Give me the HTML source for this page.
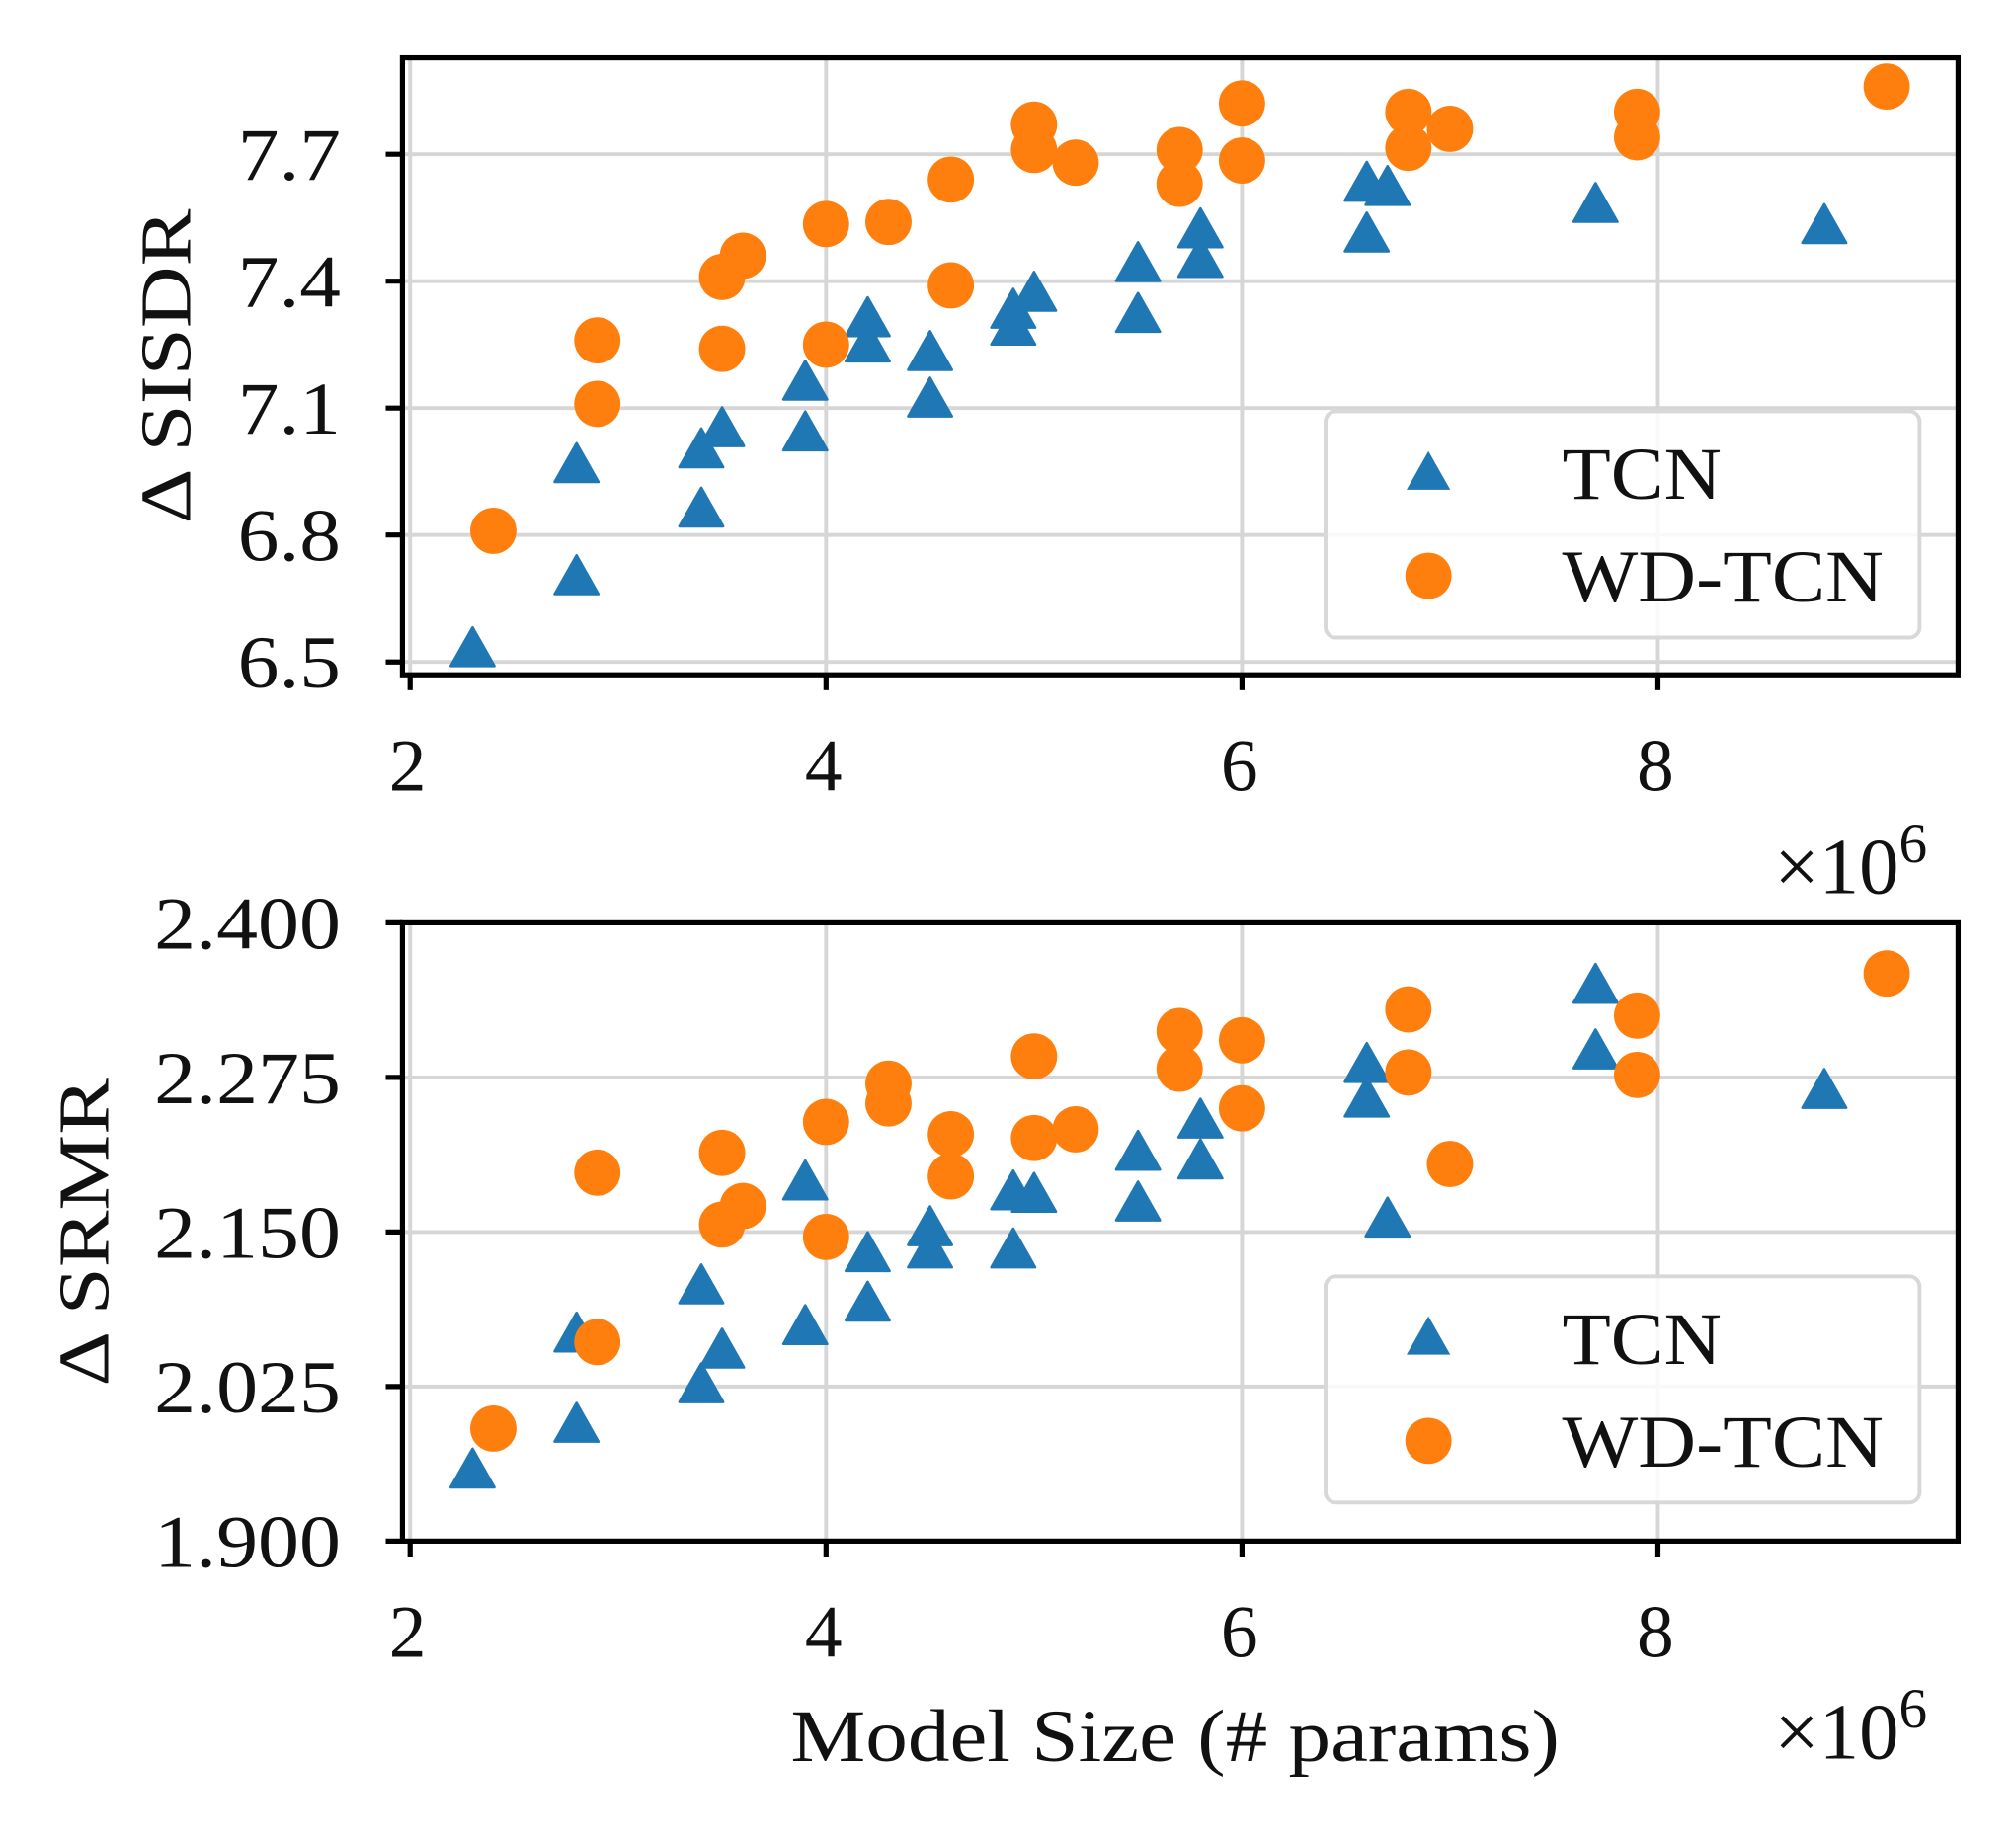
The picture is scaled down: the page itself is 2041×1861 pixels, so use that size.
<!DOCTYPE html>
<html><head><meta charset="utf-8"><style>html,body{margin:0;padding:0;background:#fff}svg{display:block}text{font-family:"Liberation Serif","DejaVu Serif",serif;fill:#111}</style></head>
<body>
<svg id="chart" width="2041" height="1861" viewBox="0 0 1568 1430" preserveAspectRatio="none" xmlns="http://www.w3.org/2000/svg"></svg>
<script>
const xTicks=[2,4,6,8];
const topYTicks=[6.5,6.8,7.1,7.4,7.7];
const topYLabels=["6.5","6.8","7.1","7.4","7.7"];
const botYTicks=[1.9,2.025,2.15,2.275,2.4];
const botYLabels=["1.900","2.025","2.150","2.275","2.400"];
const tcnSizes=[2.3,2.8,2.8,3.4,3.4,3.5,3.9,3.9,4.2,4.2,4.5,4.5,4.9,4.9,5.0,5.5,5.5,5.8,5.8,6.6,6.6,6.7,7.7,8.8];
const tcnSisdr=[6.53,6.70,6.965,6.86,7.0,7.05,7.04,7.16,7.25,7.31,7.12,7.23,7.29,7.33,7.37,7.32,7.44,7.45,7.52,7.51,7.63,7.62,7.58,7.53];
const wdSizes=[2.4,2.9,2.9,3.5,3.5,3.6,4.0,4.0,4.3,4.6,4.6,5.0,5.0,5.2,5.7,5.7,6.0,6.0,6.8,6.8,7.0,7.9,7.9,9.1];
const wdSisdr=[6.81,7.11,7.26,7.24,7.41,7.46,7.25,7.535,7.54,7.39,7.64,7.71,7.77,7.68,7.63,7.71,7.685,7.82,7.715,7.80,7.76,7.74,7.80,7.86];
const tcnSizes2=[2.3,2.8,2.8,3.4,3.4,3.5,3.9,3.9,4.2,4.2,4.5,4.5,4.9,4.9,5.0,5.5,5.5,5.8,5.8,6.6,6.6,6.7,7.7,7.7,8.8];
const tcnSrmr=[1.957,1.994,2.067,2.026,2.106,2.054,2.073,2.190,2.092,2.132,2.135,2.153,2.135,2.182,2.180,2.173,2.214,2.207,2.240,2.257,2.285,2.160,2.296,2.349,2.264];
const wdSizes2=[2.4,2.9,2.9,3.5,3.5,3.6,4.0,4.0,4.3,4.3,4.6,4.6,5.0,5.0,5.2,5.7,5.7,6.0,6.0,6.8,6.8,7.0,7.9,7.9,9.1];
const wdSrmr=[1.991,2.061,2.198,2.156,2.214,2.171,2.146,2.239,2.254,2.270,2.195,2.229,2.226,2.292,2.233,2.282,2.3125,2.25,2.305,2.279,2.330,2.205,2.277,2.325,2.359];

const svg=document.getElementById('chart');
const NS='http://www.w3.org/2000/svg';
function mk(tag,attrs,parent){const e=document.createElementNS(NS,tag);for(const k in attrs)e.setAttribute(k,attrs[k]);(parent||svg).appendChild(e);return e;}
const X=v=>319+(v-2)*161.75;

function mult(g,y){
  const m=mk('text',{x:1380,y:y,'font-size':62},g);
  
  
  m.appendChild(document.createTextNode('×10'));
  const s=mk('tspan',{'font-size':44,dy:-24},m);s.textContent='6';
}

function panel(name,top,bottom,yTicks,yLabels,tx,ty,wx,wy,yTitle,yTitleX,yTitleLen,legTop){
  const g=mk('g',{});
  
  
  const y0=top===45?515:1199, y1=top===45?120:718, v0=yTicks[0], v1=yTicks[yTicks.length-1];
  const Y=v=>y0+(v-v0)*(y1-y0)/(v1-v0);
  xTicks.forEach(t=>{const l=mk('line',{x1:X(t),x2:X(t),y1:top,y2:bottom,stroke:'#d6d6d6','stroke-width':3},g);});
  yTicks.forEach(t=>{const l=mk('line',{x1:313,x2:1523,y1:Y(t),y2:Y(t),stroke:'#d6d6d6','stroke-width':3},g);});
  tx.forEach((v,i)=>{const cx=X(v),cy=Y(ty[i]);const p=mk('polygon',{points:`${cx},${cy-17} ${cx-17},${cy+13} ${cx+17},${cy+13}`,fill:'#1f77b4','stroke':'#1f77b4','stroke-width':2,'stroke-linejoin':'round'},g);});
  wx.forEach((v,i)=>{const c=mk('circle',{cx:X(v),cy:Y(wy[i]),r:18,fill:'#ff7f0e'},g);});
  const f=mk('rect',{x:313,y:top,width:1210,height:bottom-top,fill:'none',stroke:'#000','stroke-width':4},g);
  xTicks.forEach(t=>{mk('line',{x1:X(t),x2:X(t),y1:bottom,y2:bottom+12,stroke:'#000','stroke-width':4},g);const tl=mk('text',{x:X(t)-2,y:bottom+90,'font-size':58,'text-anchor':'middle'},g);tl.textContent=t;});
  yTicks.forEach((t,i)=>{mk('line',{x1:300,x2:313,y1:Y(t),y2:Y(t),stroke:'#000','stroke-width':4},g);const lab=yLabels[i];const w=lab.length>3?145:80;const tl=mk('text',{x:265-w,y:Y(t)+20,'font-size':58,textLength:w,lengthAdjust:'spacingAndGlyphs'},g);tl.textContent=lab;});
  const cy=(top+bottom)/2;
  const yt=mk('text',{x:yTitleX,y:cy,'font-size':56,'text-anchor':'middle',textLength:yTitleLen,lengthAdjust:'spacingAndGlyphs',transform:`rotate(-90 ${yTitleX} ${cy})`},g);yt.textContent=yTitle;
  const lg=mk('g',{},g);
  mk('rect',{x:1031,y:legTop,width:462,height:176,rx:8,fill:'#fff','fill-opacity':0.85,stroke:'#d8d8d8','stroke-width':3},lg);
  const cy1=legTop+48,cy2=legTop+128;
  mk('polygon',{points:`1111,${cy1-17} 1094,${cy1+13} 1128,${cy1+13}`,fill:'#1f77b4'},lg);
  const t1=mk('text',{x:1215,y:cy1+20,'font-size':58,textLength:124,lengthAdjust:'spacingAndGlyphs'},lg);t1.textContent='TCN';
  mk('circle',{cx:1111,cy:cy2,r:18,fill:'#ff7f0e'},lg);
  const t2=mk('text',{x:1215,y:cy2+20,'font-size':58,textLength:250,lengthAdjust:'spacingAndGlyphs'},lg);t2.textContent='WD-TCN';
  mult(g,top===45?695:1368);
}
panel('sisdr-panel',45,525,topYTicks,topYLabels,tcnSizes,tcnSisdr,wdSizes,wdSisdr,'Δ SISDR',148,245,320);
panel('srmr-panel',718,1199,botYTicks,botYLabels,tcnSizes2,tcnSrmr,wdSizes2,wdSrmr,'Δ SRMR',84,240,993);
const xl=mk('text',{x:615,y:1370,'font-size':58,textLength:598,lengthAdjust:'spacingAndGlyphs'});xl.textContent='Model Size (# params)';


</script>
</body></html>
